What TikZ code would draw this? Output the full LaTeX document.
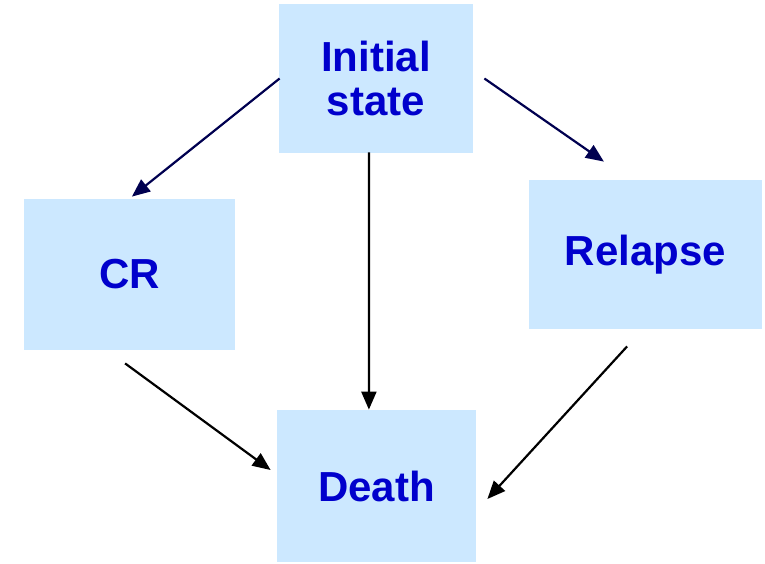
\documentclass[tikz,border=0pt]{standalone}
\usepackage{fontspec}
\setmainfont{Liberation Sans}
\usetikzlibrary{arrows.meta}
\definecolor{boxfill}{HTML}{CCE8FF}
\definecolor{boxtext}{HTML}{0000CC}
\definecolor{navy}{HTML}{000050}

\begin{document}
\begin{tikzpicture}[
x=0.5pt, y=-0.5pt,
box/.style={fill=boxfill,
rectangle,
inner sep=0pt,
text=boxtext,
font=\fontsize{21}{22}\selectfont\bfseries,
align=center},
arrow/.style={-{Triangle[length=9pt,width=7.5pt]}, line width=1.1pt}
]
\useasboundingbox (0,0) rectangle (765,563);

\node[box, minimum width=97pt, minimum height=74.5pt] (init) at (376,78.5) {Initial\\state};
\node[box, minimum width=105.5pt, minimum height=75.5pt] (cr) at (129.5,274.5) {CR};
\node[box, minimum width=116.5pt, minimum height=74.5pt] (relapse) at (645.5,254.5) {Relapse};
\node[box, minimum width=99.5pt, minimum height=76pt] (death) at (376.5,486) {Death};

\draw[arrow, navy] ([xshift=0.5pt]init.west) -- ([xshift=1.2pt, yshift=1pt]cr.north);
\draw[arrow, navy] ([xshift=5.5pt]init.east) -- ([xshift=-20.8pt, yshift=9pt]relapse.north);
\draw[arrow] ([xshift=-3.5pt, yshift=0.5pt]init.south) -- ([xshift=-3.8pt]death.north);
\draw[arrow] ([xshift=-2.2pt, yshift=-6.5pt]cr.south) -- ([xshift=-3pt, yshift=8pt]death.west);
\draw[arrow] ([xshift=-9.2pt, yshift=-8.5pt]relapse.south) -- ([xshift=5.5pt, yshift=-6.5pt]death.east);

\end{tikzpicture}
\end{document}
